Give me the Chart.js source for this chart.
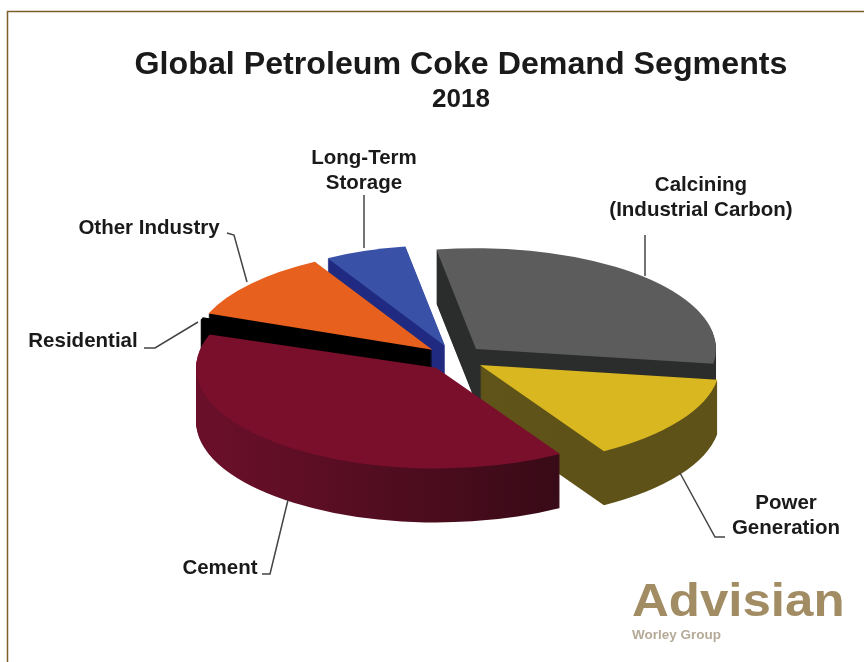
<!DOCTYPE html>
<html>
<head>
<meta charset="utf-8">
<title>Global Petroleum Coke Demand Segments</title>
<script src="https://cdn.jsdelivr.net/npm/chart.js@4/dist/chart.umd.min.js"></script>
<style>
  html, body { margin: 0; padding: 0; background: #fff; }
  #wrap { position: relative; width: 864px; height: 662px; }
</style>
</head>
<body>
<div id="wrap"><canvas id="chart" width="864" height="662"></canvas></div>
<script>
const categories = ["Calcining (Industrial Carbon)", "Power Generation", "Cement", "Residential", "Other Industry", "Long-Term Storage"];
const shares = [30, 14, 39, 0.5, 11, 5.5];
const topColors = ["#5c5c5c", "#d9b720", "#7a0f2c", "#000000", "#e8601e", "#3a51a8"];
const sideStart = ["#2b2c2c", "#66591c", "#6a0f2a", "#000000", "#000000", "#1f2a80"];
const sideEnd = ["#2b2c2c", "#5e5218", "#360a16", "#000000", "#000000", "#1f2a80"];
// back to front, so nearer slices cover the walls of the ones behind
const drawOrder = [5, 4, 3, 0, 1, 2];

const FONT = "'Liberation Sans', Arial, sans-serif";
const TILT = 0.42;
const DEPTH = 54;
const SHIFT_X = -6;
const EXPLODE = 60;

// text blocks: x/y is the first line's centre, line is the leader polyline
const callouts = [
  { lines: ["Long-Term", "Storage"], x: 364, y: 158, leader: [[364, 195], [364, 248]] },
  { lines: ["Calcining", "(Industrial Carbon)"], x: 701, y: 185, leader: [[645, 235], [645, 276]] },
  { lines: ["Other Industry"], x: 149, y: 228, leader: [[227, 233], [234, 235], [247, 282]] },
  { lines: ["Residential"], x: 83, y: 341, leader: [[144, 348], [155, 348], [198, 322]] },
  { lines: ["Cement"], x: 220, y: 568, leader: [[262, 574], [270, 574], [288, 500]] },
  { lines: ["Power", "Generation"], x: 786, y: 503, leader: [[725, 537], [715, 537], [680, 473]] }
];

const framePlugin = {
  id: 'frame',
  beforeDraw(chart) {
    const ctx = chart.ctx;
    ctx.save();
    ctx.strokeStyle = '#7d5f2a';
    ctx.lineWidth = 1.5;
    ctx.beginPath();
    ctx.moveTo(7.5, chart.height);
    ctx.lineTo(7.5, 11.5);
    ctx.lineTo(chart.width, 11.5);
    ctx.stroke();
    ctx.restore();
  }
};

// squashes the pie into an ellipse and gives every slice a wall
const tiltedPie = {
  id: 'tiltedPie',
  beforeDatasetsDraw(chart) {
    const ctx = chart.ctx;
    const arcs = chart.getDatasetMeta(0).data;

    drawOrder.forEach(i => {
      const arc = arcs[i];
      const { x, y, startAngle, endAngle, outerRadius } = arc.getProps(['x', 'y', 'startAngle', 'endAngle', 'outerRadius'], true);
      const mid = (startAngle + endAngle) / 2;
      const ox = Math.cos(mid) * EXPLODE / 2;
      const oy = Math.sin(mid) * EXPLODE / 2;

      const wedgeAt = (drop, fill) => {
        ctx.save();
        ctx.translate(SHIFT_X, y + drop);
        ctx.scale(1, TILT);
        ctx.translate(0, -y);
        ctx.fillStyle = fill;
        ctx.beginPath();
        ctx.moveTo(x + ox, y + oy);
        ctx.arc(x + ox, y + oy, outerRadius, startAngle, endAngle);
        ctx.closePath();
        ctx.fill();
        ctx.restore();
      };

      const side = ctx.createLinearGradient(x - outerRadius, 0, x + outerRadius * 0.5, 0);
      side.addColorStop(0, sideStart[i]);
      side.addColorStop(1, sideEnd[i]);

      for (let d = DEPTH; d > 0; d--) wedgeAt(d, side);
      wedgeAt(0, arc.options.backgroundColor);
    });
    return false;
  }
};

const calloutPlugin = {
  id: 'callouts',
  afterDraw(chart) {
    const ctx = chart.ctx;
    ctx.save();
    ctx.textAlign = 'center';
    ctx.textBaseline = 'middle';
    callouts.forEach(c => {
      ctx.fillStyle = '#1a1a1a';
      ctx.font = 'bold 20.5px ' + FONT;
      c.lines.forEach((line, n) => ctx.fillText(line, c.x, c.y + n * 25));

      ctx.strokeStyle = '#444444';
      ctx.lineWidth = 1.5;
      ctx.beginPath();
      c.leader.forEach((p, n) => n ? ctx.lineTo(p[0], p[1]) : ctx.moveTo(p[0], p[1]));
      ctx.stroke();
    });

    // company mark, lower right, set slightly wide
    ctx.textAlign = 'left';
    ctx.fillStyle = '#a18c63';
    ctx.font = 'bold 47px ' + FONT;
    ctx.save();
    ctx.translate(632, 603);
    ctx.scale(1.085, 1);
    ctx.fillText('Advisian', 0, 0);
    ctx.restore();
    ctx.fillStyle = '#b5aa98';
    ctx.font = 'bold 13.5px ' + FONT;
    ctx.fillText('Worley Group', 632, 635);
    ctx.restore();
  }
};

new Chart(document.getElementById('chart'), {
  type: 'pie',
  data: {
    labels: categories,
    datasets: [{
      data: shares,
      backgroundColor: topColors,
      borderWidth: 0,
      offset: EXPLODE
    }]
  },
  options: {
    responsive: false,
    animation: false,
    rotation: -9.5,
    radius: 240,
    layout: { padding: { left: 58, right: 0, top: 0, bottom: 66 } },
    plugins: {
      legend: { display: false },
      tooltip: { enabled: false },
      title: {
        display: true,
        text: 'Global Petroleum Coke Demand Segments',
        fullSize: false,
        color: '#1a1a1a',
        font: { family: FONT, size: 32.2, weight: 'bold' },
        padding: { top: 46, bottom: 0 }
      },
      subtitle: {
        display: true,
        text: '2018',
        fullSize: false,
        color: '#1a1a1a',
        font: { family: FONT, size: 26, weight: 'bold' },
        padding: { top: 0, bottom: 4 }
      }
    }
  },
  plugins: [framePlugin, tiltedPie, calloutPlugin]
});
</script>
</body>
</html>
